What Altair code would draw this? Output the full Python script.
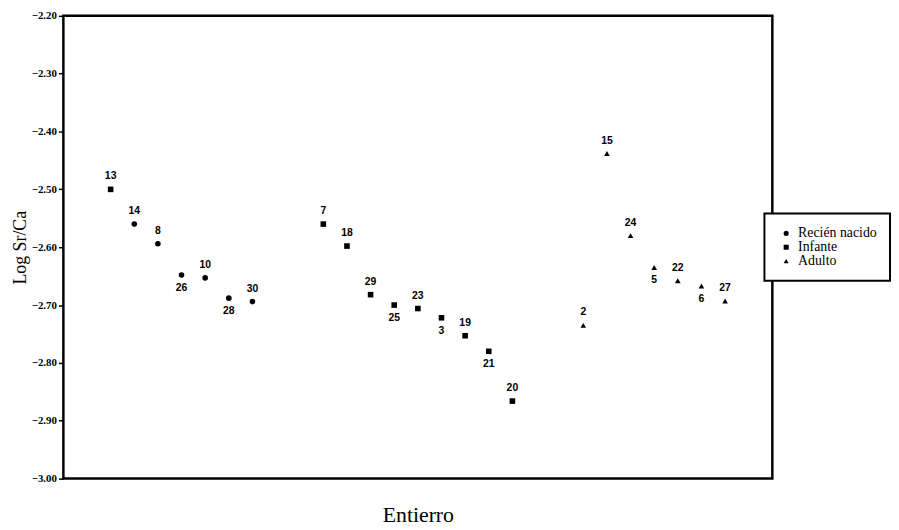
import altair as alt
import pandas as pd

# Burial number (label), group, ordering position along x, Log Sr/Ca value
entierro = ["13", "14", "8", "26", "10", "28", "30",
            "7", "18", "29", "25", "23", "3", "19", "21", "20",
            "2", "15", "24", "5", "22", "6", "27"]
grupo = ["Infante", "Recién nacido", "Recién nacido", "Recién nacido", "Recién nacido", "Recién nacido", "Recién nacido",
         "Infante", "Infante", "Infante", "Infante", "Infante", "Infante", "Infante", "Infante", "Infante",
         "Adulto", "Adulto", "Adulto", "Adulto", "Adulto", "Adulto", "Adulto"]
orden = [0, 1, 2, 3, 4, 5, 6,
         9, 10, 11, 12, 13, 14, 15, 16, 17,
         20, 21, 22, 23, 24, 25, 26]
log_sr_ca = [-2.50, -2.56, -2.594, -2.648, -2.653, -2.688, -2.694,
             -2.560, -2.598, -2.682, -2.700, -2.706, -2.722, -2.753, -2.780, -2.866,
             -2.735, -2.438, -2.580, -2.635, -2.658, -2.667, -2.693]
etiqueta_abajo = [False, False, False, True, False, True, False,
                  False, False, False, True, False, True, False, True, False,
                  False, False, False, True, False, True, False]

df = pd.DataFrame({
    "Entierro": entierro,
    "Grupo": grupo,
    "Orden": orden,
    "Log Sr/Ca": log_sr_ca,
    "Abajo": etiqueta_abajo,
})

x = alt.X("Orden:Q", scale=alt.Scale(domain=[-2, 28], nice=False, zero=False),
          axis=alt.Axis(title="Entierro", labels=False, ticks=False, domain=False, grid=False,
                        titleFont="Liberation Serif", titleFontSize=22, titleFontWeight="normal",
                        titleColor="black", titlePadding=26))
y = alt.Y("Log Sr/Ca:Q", scale=alt.Scale(domain=[-3.0, -2.2], nice=False, zero=False),
          axis=alt.Axis(title="Log Sr/Ca", values=[-3.0, -2.9, -2.8, -2.7, -2.6, -2.5, -2.4, -2.3, -2.2],
                        format=".2f", grid=False, domain=False, ticks=True, tickSize=5,
                        tickColor="black", tickWidth=1.5,
                        labelFont="Liberation Serif", labelFontSize=11, labelFontWeight="bold",
                        labelColor="black", labelPadding=2,
                        titleFont="Liberation Serif", titleFontSize=18, titleFontWeight="normal",
                        titleColor="black", titlePadding=2))

base = alt.Chart(df)

points = base.mark_point(filled=True, opacity=1, color="black", size=32).encode(
    x=x,
    y=y,
    shape=alt.Shape("Grupo:N",
                    scale=alt.Scale(domain=["Recién nacido", "Infante", "Adulto"],
                                    range=["circle", "square", "triangle-up"]),
                    legend=alt.Legend(title=None, orient="none", legendX=709, legendY=200,
                                      labelFont="Liberation Serif", labelFontSize=14,
                                      labelColor="black", symbolFillColor="black",
                                      symbolStrokeColor="black", symbolSize=26,
                                      padding=13, rowPadding=0, labelOffset=5,
                                      strokeColor="black", fillColor="white",
                                      cornerRadius=0, symbolOffset=2)),
)

text_style = dict(font="Liberation Sans", fontSize=10.5, fontWeight="bold", color="black",
                  baseline="middle", align="center")

labels_up = base.transform_filter("!datum.Abajo").mark_text(dy=-13, **text_style).encode(
    x="Orden:Q", y="Log Sr/Ca:Q", text="Entierro:N")
labels_down = base.transform_filter("datum.Abajo").mark_text(dy=13, **text_style).encode(
    x="Orden:Q", y="Log Sr/Ca:Q", text="Entierro:N")

chart = alt.layer(points, labels_up, labels_down).properties(
    width=717, height=468,
    autosize=alt.AutoSizeParams(type="none"),
    padding={"left": 56, "top": 5, "right": 120, "bottom": 45},
).configure_view(
    stroke="black", strokeWidth=2.5, fill="white"
).configure_legend(
    strokeWidth=2
)

chart.save("out.html", embed_options={"renderer": "svg", "actions": False})
